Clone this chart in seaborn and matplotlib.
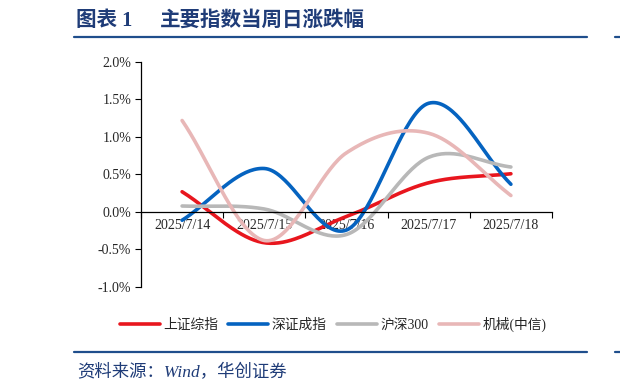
import numpy as np
import pandas as pd
import matplotlib
matplotlib.use("Agg")
import matplotlib.pyplot as plt
import seaborn as sns
from matplotlib.lines import Line2D

dates = ["2025/7/14", "2025/7/15", "2025/7/16", "2025/7/17", "2025/7/18"]
series_names = ["上证综指", "深证成指", "沪深300", "机械(中信)"]
sh_comp = [0.27, -0.41, -0.06, 0.39, 0.51]
sz_comp = [-0.11, 0.58, -0.24, 1.45, 0.37]
hs300 = [0.08, 0.04, -0.30, 0.73, 0.60]
machinery = [1.22, -0.38, 0.79, 1.05, 0.22]
colors = ["#E8161E", "#0563C0", "#B8B8B8", "#E8B7B7"]

sns.set_style("white")
plt.rcParams["font.family"] = ["Liberation Serif", "Noto Sans CJK SC", "DejaVu Sans"]


def smooth(y, n=40):
    # catmull-rom spline like excel's smoothed line
    y = np.asarray(y, dtype=float)
    x = np.arange(len(y), dtype=float)
    px = np.concatenate([[2 * x[0] - x[1]], x, [2 * x[-1] - x[-2]]])
    py = np.concatenate([[2 * y[0] - y[1]], y, [2 * y[-1] - y[-2]]])
    xs, ys = [], []
    for i in range(1, len(px) - 2):
        t = np.linspace(0, 1, n, endpoint=(i == len(px) - 3))
        for p, out in ((px, xs), (py, ys)):
            p0, p1, p2, p3 = p[i - 1], p[i], p[i + 1], p[i + 2]
            out.append(0.5 * (2 * p1 + (-p0 + p2) * t
                              + (2 * p0 - 5 * p1 + 4 * p2 - p3) * t ** 2
                              + (-p0 + 3 * p1 - 3 * p2 + p3) * t ** 3))
    return np.concatenate(xs), np.concatenate(ys)


rows = []
for name, vals in zip(series_names, [sh_comp, sz_comp, hs300, machinery]):
    xs, ys = smooth(vals)
    rows.append(pd.DataFrame({"x": xs, "y": ys, "series": name}))
df = pd.concat(rows, ignore_index=True)

fig = plt.figure(figsize=(6.2, 3.92), dpi=100)
ax = fig.add_axes([141 / 620, 1 - 287 / 392, (552 - 141) / 620, (287 - 62) / 392])

sns.lineplot(data=df, x="x", y="y", hue="series", palette=colors,
             hue_order=series_names, sort=False, estimator=None,
             linewidth=2.6, legend=False, ax=ax)

ax.set_xlim(-0.5, 4.5)
ax.set_ylim(-1.0, 2.0)
yt = np.arange(-1.0, 2.01, 0.5)
ax.set_yticks(yt)
ax.set_yticklabels([f"{v:.1f}%" for v in yt], fontsize=10)
ax.set_xticks(range(len(dates)))
ax.set_xticklabels(dates, fontsize=10)
ax.set_xticks(np.arange(-0.5, 4.6, 1.0), minor=True)
ax.tick_params(axis="x", which="major", bottom=True, length=0, pad=5)
ax.tick_params(axis="x", which="minor", bottom=True, length=4, width=0.8,
               direction="out", color="black")
ax.tick_params(axis="y", left=True, length=4, width=0.8, direction="out",
               color="black", pad=3)
ax.set_xlabel("")
ax.set_ylabel("")
for s in ["top", "right"]:
    ax.spines[s].set_visible(False)
ax.spines["bottom"].set_position(("data", 0))
for s in ["left", "bottom"]:
    ax.spines[s].set_color("black")
    ax.spines[s].set_linewidth(0.9)

handles = [Line2D([0], [0], color=c, lw=2.6) for c in colors]
fig.legend(handles, series_names, loc="center", bbox_to_anchor=(333 / 620, 1 - 324 / 392),
           ncol=4, frameon=False, handlelength=2.9, handletextpad=0.25,
           columnspacing=0.75,
           prop={"family": ["Liberation Serif", "Noto Sans CJK SC"], "size": 9.9})

navy = "#1F3C78"
line_c = "#1F4E8C"
title_font = ["Liberation Serif", "Noto Sans CJK SC"]
fig.text(76 / 620, 1 - 21 / 392, "图表 1", fontsize=14.8, fontweight="bold",
         color=navy, va="center", ha="left", family=title_font)
fig.text(160 / 620, 1 - 21 / 392, "主要指数当周日涨跌幅", fontsize=14.8, fontweight="bold",
         color=navy, va="center", ha="left", family=title_font)
fig.add_artist(Line2D([74 / 620, 587 / 620], [1 - 37 / 392] * 2, color=line_c, lw=1.6))
fig.add_artist(Line2D([74 / 620, 587 / 620], [1 - 351.5 / 392] * 2, color=line_c, lw=1.6))
fig.add_artist(Line2D([615 / 620, 1.0], [1 - 37 / 392] * 2, color=line_c, lw=1.6))
fig.add_artist(Line2D([615 / 620, 1.0], [1 - 351.5 / 392] * 2, color=line_c, lw=1.6))
fig.text(77 / 620, 1 - 373 / 392, "资料来源：Wind，华创证券", fontsize=12.5, style="italic",
         color=navy, va="center", ha="left", family=title_font)

fig.savefig("out.png", dpi=100)
